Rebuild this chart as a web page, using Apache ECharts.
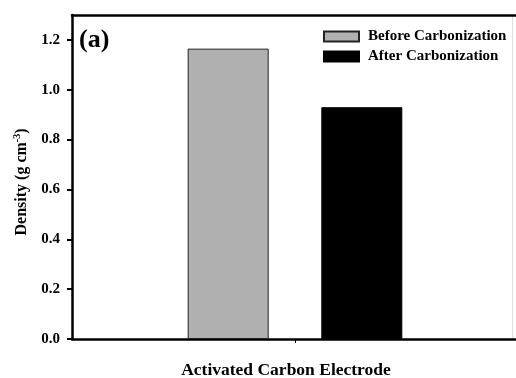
<!DOCTYPE html>
<html><head><meta charset="utf-8">
<script src="https://cdn.jsdelivr.net/npm/echarts@6/dist/echarts.min.js"></script>
<style>html,body{margin:0;padding:0;background:#fff}#c{width:516px;height:378px}</style>
</head><body><div id="c"></div>
<script>
const categories = ['Activated Carbon Electrode'];
const seriesNames = ['Before Carbonization', 'After Carbonization'];
const beforeValues = [1.165];
const afterValues = [0.93];
const yTicks = [0, 0.2, 0.4, 0.6, 0.8, 1.0, 1.2];

const F = 'Liberation Serif, Times New Roman, serif';
const chart = echarts.init(document.getElementById('c'));
chart.setOption({
  animation: false,
  backgroundColor: '#fff',
  grid: {left: 72, right: -2, top: 15, bottom: 39, containLabel: false, outerBoundsMode: 'none'},
  title: {text: '(a)', left: 79, top: 27, padding: 0, textStyle: {fontFamily: F, fontWeight: 'bold', fontSize: 26, color: '#000'}},
  legend: {
    orient: 'vertical', left: 323, top: 29, padding: 0, itemWidth: 35, itemHeight: 10, itemGap: 5,
    icon: 'rect',
    textStyle: {fontFamily: F, fontWeight: 'bold', fontSize: 15, color: '#000', padding: [0,0,0,4]},
    data: seriesNames
  },
  xAxis: [{
    type: 'category', data: categories, position: 'bottom',
    axisLine: {lineStyle: {color: '#000', width: 2.5}},
    axisTick: {show: true, alignWithLabel: true, length: 4, lineStyle: {color: '#000', width: 1}},
    axisLabel: {show: false},
    name: categories[0], nameLocation: 'middle', nameGap: 22,
    nameTextStyle: {fontFamily: F, fontWeight: 'bold', fontSize: 17.5, color: '#000', padding: [0, 18, 0, 0]}
  }, {
    type: 'category', data: categories, position: 'top',
    axisLine: {onZero: false, lineStyle: {color: '#000', width: 2.5}}, axisTick: {show: false}, axisLabel: {show: false}
  }],
  yAxis: [{
    type: 'value', min: 0, max: 1.3, interval: 0.2, position: 'left',
    name: 'Density (g cm{sup|-3})', nameLocation: 'middle', nameGap: 39, nameRotate: 90,
    nameTextStyle: {fontFamily: F, fontWeight: 'bold', fontSize: 16, color: '#000', padding: [0, 10, 0, 0],
      rich: {sup: {fontFamily: F, fontWeight: 'bold', fontSize: 10, color: '#000', verticalAlign: 'top', padding: [0,0,10,0]}}},
    axisLine: {show: true, onZero: false, lineStyle: {color: '#000', width: 2.5}},
    axisTick: {show: true, length: 5, lineStyle: {color: '#000', width: 2}, customValues: yTicks},
    axisLabel: {fontFamily: F, fontWeight: 'bold', fontSize: 15, color: '#000', margin: 12,
      customValues: yTicks, formatter: v => v.toFixed(1)},
    splitLine: {show: false}
  }, {
    type: 'value', min: 0, max: 1.3, position: 'right', offset: -6,
    axisLine: {show: true, onZero: false, lineStyle: {color: '#ddd', width: 1}}, axisTick: {show: false}, axisLabel: {show: false}, splitLine: {show: false}
  }],
  series: [{
    name: seriesNames[0], type: 'bar', data: beforeValues, barWidth: 81, barGap: '65%',
    itemStyle: {color: '#b0b0b0', borderColor: '#222', borderWidth: 1}
  }, {
    name: seriesNames[1], type: 'bar', data: afterValues, barWidth: 81,
    itemStyle: {color: '#000', borderColor: '#000', borderWidth: 1}
  }]
});
</script></body></html>
